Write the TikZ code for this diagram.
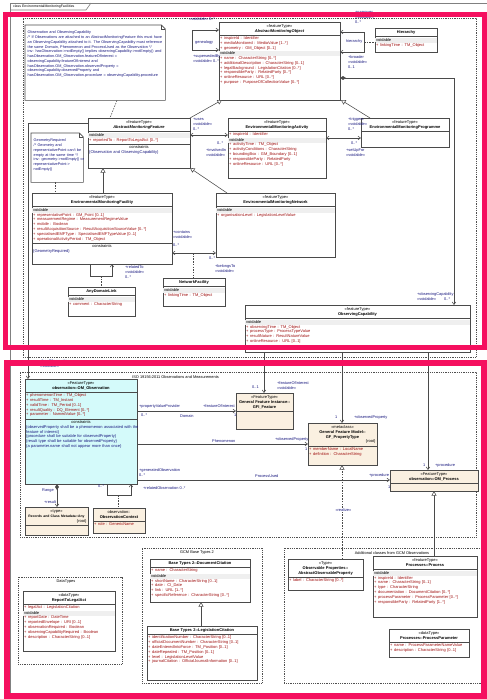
\documentclass[tikz,border=0pt]{standalone}
\usepackage{fontspec}
\setmainfont{Liberation Sans}
\usetikzlibrary{arrows.meta,shadows,calc}
\definecolor{pinkc}{HTML}{F5105F}
\definecolor{bord}{HTML}{4A4A4A}
\definecolor{shad}{HTML}{9A9A9A}
\definecolor{beige}{HTML}{FAF0E1}
\definecolor{cyanf}{HTML}{D4FAFA}
\definecolor{attr}{HTML}{A01010}
\definecolor{navy}{HTML}{1A1A80}
\definecolor{vband}{HTML}{EFEFEF}
\definecolor{pkg}{HTML}{505050}
\definecolor{frm}{HTML}{808080}
\setlength\parindent{0pt}
\newcommand\ctr[1]{\par\makebox[\hsize][c]{\strut #1}\par}
\newcommand\cbf[1]{\par\makebox[\hsize][c]{\strut\textbf{#1}}\par}
\newcommand\crt[1]{\par\makebox[\hsize][r]{\strut #1\hspace*{1.5pt}}\par}
\newcommand\csep{\par\vspace{1.6pt}{\color{bord}\hrule height 0.5pt}\vspace{0.6pt}}
\newcommand\vdb{\par\vspace{0.6pt}{\setlength\fboxsep{0pt}\colorbox{vband}{\makebox[\hsize][l]{\hspace*{1.2pt}\strut voidable}}}\par}
\newcommand\atr[1]{\par\makebox[\hsize][l]{\hspace*{1.2pt}\strut{\color{attr}+\hspace{1.6pt}#1}}\par}
\newcommand\cnst[1]{\par\makebox[\hsize][l]{\hspace*{1.2pt}\strut{\color{navy}#1}}\par}
\newcommand\cls[7]{%
 \node[clsbox, fill=#6, minimum width=#4pt, minimum height=#5pt, anchor=north west] (#1) at (#2,#3) {};
 \node[clstxt, text width=#4pt] (#1t) at (#1.north west) {\vspace*{0.6pt}#7};
}
\newcommand\notebox[7]{%
 \node[draw=none, minimum width=#4pt, minimum height=#5pt, anchor=north west, inner sep=0pt] (#1) at (#2,#3) {};
 \filldraw[fill=white, draw=bord, line width=0.6pt] (#1.north west) -- ($(#1.north east)+(-4,0)$) -- ($(#1.north east)+(0,4)$) -- (#1.south east) -- (#1.south west) -- cycle;
 \draw[bord, line width=0.4pt] ($(#1.north east)+(-4,0)$) -- ($(#1.north east)+(-4,4)$) -- ($(#1.north east)+(0,4)$);
 \node[notetxt, text width=#6pt] (#1t) at ($(#1.north west)+(2.5,6)$) {#7};
}
\begin{document}
\begin{tikzpicture}[x=1pt,y=-1pt,
 clsbox/.style={draw=bord, line width=0.6pt, inner sep=0pt, outer sep=0pt, drop shadow={shadow xshift=1.2pt,shadow yshift=-1.2pt,fill=shad,opacity=1}},
 clstxt/.style={anchor=north west, inner sep=0pt, outer sep=0pt, align=left, font=\fontsize{4.0}{4.8}\selectfont},
 notetxt/.style={anchor=north west, inner sep=0pt, align=left, text=navy, font=\fontsize{3.8}{4.75}\selectfont},
 lbl/.style={anchor=north west, inner sep=0pt, align=left, text=navy, font=\fontsize{3.9}{4.8}\selectfont},
 pkgbox/.style={draw=pkg, line width=0.5pt, dash pattern=on 1pt off 0.8pt, inner sep=0pt, anchor=north west},
 con/.style={draw=bord, line width=0.55pt},
 nav/.style={con, -{Straight Barb[length=2.6pt,width=3.6pt]}},
 bnav/.style={con, {Straight Barb[length=2.6pt,width=3.6pt]}-{Straight Barb[length=2.6pt,width=3.6pt]}},
 gen/.style={con, -{Triangle[open,length=4.6pt,width=5pt,fill=white]}},
 comp/.style={con, {Diamond[length=6pt,width=3.8pt,fill=bord]}-{Straight Barb[length=2.6pt,width=3.6pt]}},
 dsh/.style={con, dash pattern=on 1.5pt off 1.2pt},
 real/.style={dsh, -{Triangle[open,length=4.6pt,width=5pt,fill=white]}},
]
\useasboundingbox (0,0) rectangle (487,699);
\fill[white] (0,0) rectangle (487,699);

% frame
\draw[frm, line width=0.8pt] (10,697) -- (10,3) -- (487,3);
\draw[frm, line width=0.6pt] (10,10) -- (86,10) -- (91,3);
\node[anchor=west, inner sep=0pt, font=\fontsize{3.5}{4}\selectfont] (ftab) at (13,6.6) {class EnvironmentalMonitoringFacilities};

% packages
\node[pkgbox, minimum width=453pt, minimum height=339pt] (pkgtop) at (23,18) {};
\node[pkgbox, minimum width=456pt, minimum height=165pt] (pkgom) at (20,372) {};
\node[pkgbox, minimum width=104pt, minimum height=87pt] (pkgdt) at (18,577) {};
\node[pkgbox, minimum width=120pt, minimum height=135pt] (pkgbt) at (142,548) {};
\node[pkgbox, minimum width=197pt, minimum height=135pt] (pkgobs) at (284,548) {};
\node[lbl, text=black, anchor=west] (pkgoml) at (132,377) {ISO 19156:2011 Observations and Measurements};
\node[lbl, text=black, anchor=center] (pkgdtl) at (66,582) {DataTypes};
\node[lbl, text=black, anchor=center] (pkgbtl) at (197,553) {GCM Base Types 2};
\node[lbl, text=black, anchor=center] (pkgobsl) at (392,553) {Additional classes from GCM Observations};

% notes
\notebox{note1}{25}{25}{140}{75}{138}{Observation and ObservingCapability\\
/* If Observations are attached to an AbstractMonitoringFeature this must have\\
an ObservingCapability attached to it. The ObservingCapability must reference\\
the same Domain, Phenomenon and ProcessUsed as the Observation */\\
inv: hasObservation->notEmpty() implies observingCapability->notEmpty() and\\
hasObservation.OM\_Observation.featureOfInterest =\\
observingCapability.featureOfInterest and\\
hasObservation.OM\_Observation.observedProperty =\\
observingCapability.observedProperty and\\
hasObservation.OM\_Observation.procedure = observingCapability.procedure}
\notebox{note2}{31}{133}{52}{49}{52}{GeometryRequired\\
/* Geometry and\\
representativePoint can't be\\
empty at the same time */\\
inv: geometry->notEmpty() or\\
representativePoint->\\
notEmpty()}

% top classes
\cls{amo}{219}{22}{121}{78}{white}{\ctr{«featureType»}\cbf{\textit{AbstractMonitoringObject}}\csep\atr{inspireId : Identifier}\atr{mediaMonitored : MediaValue [1..*]}\atr{geometry : GM\_Object [0..1]}\vdb\atr{name : CharacterString [0..*]}\atr{additionalDescription : CharacterString [0..1]}\atr{legalBackground : LegislationCitation [0..*]}\atr{responsibleParty : RelatedParty [0..*]}\atr{onlineResource : URL [0..*]}\atr{purpose : PurposeOfCollectionValue [0..*]}}
\cls{hier}{375}{28}{62}{24}{white}{\cbf{Hierarchy}\csep\vdb\atr{linkingTime : TM\_Object}}
\cls{amf}{88}{118}{102}{50}{white}{\ctr{«featureType»}\cbf{\textit{AbstractMonitoringFeature}}\csep\vdb\atr{reportedTo : ReportToLegalAct [0..*]}\csep\ctr{constraints}\cnst{\{Observation and ObservingCapability\}}}
\cls{ema}{228}{118}{98}{60}{white}{\ctr{«featureType»}\cbf{EnvironmentalMonitoringActivity}\csep\atr{inspireId : Identifier}\vdb\atr{activityTime : TM\_Object}\atr{activityConditions : CharacterString}\atr{boundingBox : GM\_Boundary [0..1]}\atr{responsibleParty : RelatedParty}\atr{onlineResource : URL [0..*]}}
\cls{emp}{361}{118}{88}{29}{white}{\ctr{«featureType»}\cbf{EnvironmentalMonitoringProgramme}\csep}
\cls{emf}{32}{193}{140}{71}{white}{\ctr{«featureType»}\cbf{EnvironmentalMonitoringFacility}\csep\vdb\atr{representativePoint : GM\_Point [0..1]}\atr{measurementRegime : MeasurementRegimeValue}\atr{mobile : Boolean}\atr{resultAcquisitionSource : ResultAcquisitionSourceValue [0..*]}\atr{specialisedEMFType : SpecialisedEMFTypeValue [0..1]}\atr{operationalActivityPeriod : TM\_Object}\csep\ctr{constraints}\cnst{\{GeometryRequired\}}}
\cls{emn}{216}{193}{119}{64}{white}{\ctr{«featureType»}\cbf{EnvironmentalMonitoringNetwork}\csep\vdb\atr{organisationLevel : LegislationLevelValue}}
\cls{nf}{163}{278}{62}{28}{white}{\cbf{NetworkFacility}\csep\vdb\atr{linkingTime : TM\_Object}}
\cls{adl}{68}{287}{67}{29}{white}{\cbf{AnyDomainLink}\csep\vdb\atr{comment : CharacterString}}
\cls{oc}{245}{305}{225}{47}{white}{\ctr{«featureType»}\cbf{ObservingCapability}\csep\vdb\atr{observingTime : TM\_Object}\atr{processType : ProcessTypeValue}\atr{resultNature : ResultNatureValue}\atr{onlineResource : URL [0..1]}}

% bottom classes
\cls{omo}{25}{379}{112}{105}{cyanf}{\ctr{«FeatureType»}\cbf{observation::OM\_Observation}\csep\atr{phenomenonTime : TM\_Object}\atr{resultTime : TM\_Instant}\atr{validTime : TM\_Period [0..1]}\atr{resultQuality : DQ\_Element [0..*]}\atr{parameter : NamedValue [0..*]}\csep\ctr{constraints}\cnst{\{observedProperty shall be a phenomenon associated with the}\cnst{feature of interest\}}\cnst{\{procedure shall be suitable for observedProperty\}}\cnst{\{result type shall be suitable for observedProperty\}}\cnst{\{a parameter.name shall not appear more than once\}}}
\cls{any}{25}{507}{63}{28}{beige}{\ctr{«type»}\cbf{\fontsize{3.4}{4.8}\selectfont Records and Class Metadata::Any}\crt{\{root\}}\csep}
\cls{octx}{93}{508}{52}{25}{beige}{\ctr{observation::}\cbf{ObservationContext}\csep\atr{role : GenericName}}
\cls{gfi}{236}{393}{57}{36}{beige}{\ctr{«FeatureType»}\cbf{General Feature Instance::}\cbf{GFI\_Feature}\csep}
\cls{gfpt}{308}{423}{69}{42}{beige}{\ctr{«metaclass»}\cbf{General Feature Model::}\cbf{GF\_PropertyType}\crt{\{root\}}\csep\atr{memberName : LocalName}\atr{definition : CharacterString}}
\cls{omp}{390}{470}{88}{21}{beige}{\ctr{«FeatureType»}\cbf{observation::OM\_Process}\csep}
\cls{op}{288}{559}{75}{31}{white}{\ctr{«Type»}\cbf{Observable Properties::}\cbf{AbstractObservableProperty}\csep\atr{label : CharacterString [0..*]}}
\cls{proc}{373}{556}{104}{61}{white}{\ctr{«featureType»}\cbf{Processes::Process}\csep\vdb\atr{inspireId : Identifier}\atr{name : CharacterString [0..1]}\atr{type : CharacterString}\atr{documentation : DocumentCitation [0..*]}\atr{processParameter : ProcessParameter [0..*]}\atr{responsibleParty : RelatedParty [1..*]}}
\cls{ppar}{389}{629}{80}{28}{white}{\ctr{«dataType»}\cbf{Processes::ProcessParameter}\csep\atr{name : ProcessParameterNameValue}\atr{description : CharacterString [0..1]}}
\cls{docc}{150}{559}{100}{43}{white}{\cbf{Base Types 2::DocumentCitation}\csep\atr{name : CharacterString}\vdb\atr{shortName : CharacterString [0..1]}\atr{date : CI\_Date}\atr{link : URL [1..*]}\atr{specificReference : CharacterString [0..*]}}
\cls{legc}{147}{626}{110}{54}{white}{\cbf{Base Types 2::LegislationCitation}\csep\atr{identificationNumber : CharacterString [0..1]}\atr{officialDocumentNumber : CharacterString [0..1]}\atr{dateEnteredIntoForce : TM\_Position [0..1]}\atr{dateRepealed : TM\_Position [0..1]}\atr{level : LegislationLevelValue}\atr{journalCitation : OfficialJournalInformation [0..1]}}
\cls{rla}{23}{591}{92}{60}{white}{\ctr{«dataType»}\cbf{ReportToLegalAct}\csep\atr{legalAct : LegislationCitation}\vdb\atr{reportDate : DateTime}\atr{reportedEnvelope : URI [0..1]}\atr{observationRequired : Boolean}\atr{observingCapabilityRequired : Boolean}\atr{description : CharacterString [0..1]}}

% top connectors
\draw[dsh] ($(note1.south west)+(92,0)$) -- ($(amf.north west)+(22,0)$);
\draw[dsh] ($(note2.south west)+(24,0)$) -- ($(emf.north west)+(23,0)$);
\draw[gen] ($(emf.north west)+(71,0)$) -- ($(amf.south west)+(15,0)$);
\draw[gen] (amf.north east) -- ($(amo.south west)+(3,0)$);
\draw[gen] ($(emn.north west)+(11,0)$) -- (amf.south east);
\draw[gen] ($(emp.north west)+(9,0)$) -- ($(amo.south east)+(1,0)$);
\draw[bnav] ($(amf.north east)+(0,17)$) -- ($(ema.north west)+(0,17)$);
\draw[bnav] ($(ema.north east)+(0,20)$) -- ($(emp.north west)+(0,20)$);
\draw[bnav] ($(amo.north west)+(0,8)$) -- ++(-27,0) -- ++(0,20) -- ($(amo.north west)+(0,28)$);
\draw[bnav] ($(amo.north east)+(0,10)$) -- ++(24,0) -- ++(0,20) -- ($(amo.north east)+(0,30)$);
\coordinate (hmid) at ($(amo.north east)+(24,20)$);
\draw[dsh] (hmid) -- (hier.west |- hmid);
\draw[comp] ($(amo.north east)+(0,56)$) -| ($(oc.north west)+(209,0)$);
\draw[nav] ($(emf.south west)+(58,0)$) -- ++(0,12) -- ++(22,0) -- ($(emf.south west)+(80,0)$);
\coordinate (rmid) at ($(emf.south west)+(69,12)$);
\draw[dsh] (rmid) -- (adl.north -| rmid);
\draw[bnav] ($(emf.north east)+(0,60)$) -- ($(emn.north west)+(0,60)$);
\coordinate (cmid) at ($(emf.north east)+(21,60)$);
\draw[dsh] (cmid) -- (nf.north -| cmid);
\draw[nav] ($(amf.north west)+(0,5)$) -| ($(omo.north west)+(3,0)$);
\draw[nav] ($(oc.south west)+(19,0)$) -- ($(gfi.north west)+(28,0)$);
\draw[nav] ($(oc.south west)+(97,0)$) -- ($(gfpt.north west)+(34,0)$);
\draw[nav] ($(oc.south west)+(183,0)$) -- ($(omp.north west)+(38,0)$);

% bottom connectors
\draw[nav] ($(omo.north east)+(0,32)$) -- ($(gfi.north west)+(0,18)$);
\draw[nav] ($(omo.north east)+(0,65)$) -- ($(gfpt.north west)+(0,21)$);
\draw[nav] ($(omo.north east)+(0,101)$) -- ($(omp.north west)+(0,10)$);
\draw[nav] ($(omo.south west)+(82,0)$) -- ++(0,11) -- ++(24,0) -- ($(omo.south west)+(106,0)$);
\coordinate (omid) at ($(omo.south west)+(93,11)$);
\draw[dsh] (omid) -- (octx.north -| omid);
\draw[comp] ($(omo.south west)+(32,0)$) -- ($(any.north west)+(32,0)$);
\draw[real] ($(op.north west)+(54,0)$) -- ($(gfpt.south west)+(34,0)$);
\draw[gen] ($(proc.north west)+(61,0)$) -- ($(omp.south west)+(44,0)$);
\draw[gen] ($(legc.north west)+(54,0)$) -- ($(docc.south west)+(51,0)$);

% labels top
\node[lbl] (l1) at (189,12.5) {+supersedes\\«voidable» 0..*};
\node[lbl] (l2) at (193,54.5) {+supersededBy\\«voidable» 0..*};
\node[lbl] (l3) at (195,40.5) {genealogy};
\node[lbl] (l4) at (355,11.5) {+narrower\\«voidable»\\0..*};
\node[lbl] (l5) at (346,39.5) {hierarchy};
\node[lbl] (l6) at (348,55.5) {+broader\\«voidable»\\0..1};
\node[lbl] (l7) at (193,118.5) {+uses\\«voidable»\\0..*};
\node[lbl] (l8) at (217,141.5) {0..*};
\node[lbl] (l9) at (206,148.5) {+involvedIn\\«voidable»};
\node[lbl] (l10) at (348,117.5) {+triggers\\«voidable»\\0..*};
\node[lbl] (l11) at (351,141.5) {0..*};
\node[lbl] (l12) at (346,148.5) {+setUpFor\\«voidable»};
\node[lbl] (l13) at (125,265.5) {+relatedTo\\«voidable»\\0..*};
\node[lbl] (l14) at (173,230.5) {+contains\\«voidable»};
\node[lbl] (l15) at (173,243.5) {0..*};
\node[lbl] (l16) at (209,256.5) {0..*};
\node[lbl] (l17) at (215,264.5) {+belongsTo\\«voidable»};
\node[lbl] (l18) at (417,292.5) {+observingCapability};
\node[lbl] (l19) at (417,297.5) {«voidable»};
\node[lbl] (l20) at (444,297.5) {0..*};
\node[lbl] (l21) at (40,359.5) {+hasObservation\\«voidable»};

% labels bottom
\node[lbl] (b1) at (252,385.5) {0..1};
\node[lbl] (b2) at (277,381.5) {+featureOfInterest\\«voidable»};
\node[lbl] (b3) at (335,415.5) {1};
\node[lbl] (b4) at (354,415.5) {+observedProperty};
\node[lbl] (b5) at (423,463.5) {1};
\node[lbl] (b6) at (435,463.5) {+procedure};
\node[lbl] (b7) at (139,404.5) {+propertyValueProvider};
\node[lbl] (b8) at (141,413.5) {0..*};
\node[lbl] (b9) at (180,414.5) {Domain};
\node[lbl] (b10) at (203,404.5) {+featureOfInterest};
\node[lbl] (b11) at (234,413.5) {1};
\node[lbl] (b12) at (212,439) {Phenomenon};
\node[lbl] (b13) at (275,437.5) {+observedProperty};
\node[lbl] (b14) at (305,447.5) {1};
\node[lbl] (b15) at (139,468.5) {+generatedObservation\\0..*};
\node[lbl] (b16) at (255,474.5) {ProcessUsed};
\node[lbl] (b17) at (369,473.5) {+procedure};
\node[lbl] (b18) at (388,485.5) {1};
\node[lbl] (b19) at (98,484.5) {0..*};
\node[lbl] (b20) at (143,486.5) {+relatedObservation 0..*};
\node[lbl] (b21) at (42,488.5) {Range};
\node[lbl] (b22) at (44,500.5) {+result};
\node[lbl, fill=white, inner sep=0.3pt] (b23) at (335,508.5) {«realize»};

% pink highlights
\draw[pinkc, line width=5pt] (5.5,14) rectangle (484,347.5);
\draw[pinkc, line width=6pt] (6.5,363) rectangle (484,696);
\end{tikzpicture}
\end{document}
